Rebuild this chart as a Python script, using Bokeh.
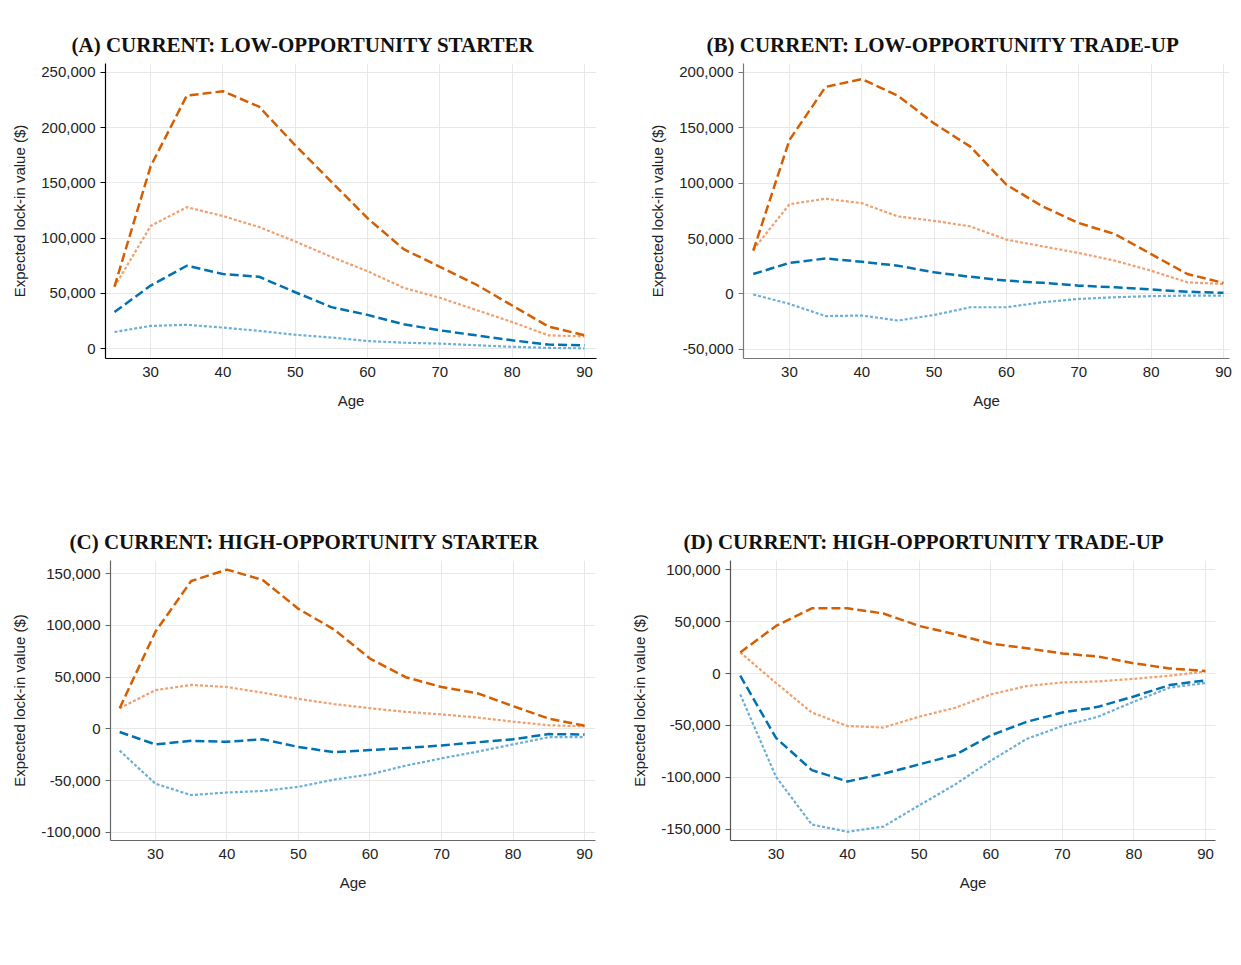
from bokeh.plotting import figure
from bokeh.models import Range1d, FixedTicker, NumeralTickFormatter, Legend, LegendItem
from bokeh.embed import file_html
from bokeh.resources import INLINE

ages = [25, 30, 35, 40, 45, 50, 55, 60, 65, 70, 75, 80, 85, 90]
series_names = ["Owner LS", "Owner LT", "Owner HS", "Owner HT"]

# Panel A: Current low-opportunity starter
a_ls = [15000, 20500, 21500, 19000, 16000, 12500, 10000, 6800, 5300, 4500, 3000, 1600, 600, 200]
a_lt = [33000, 57000, 75000, 67500, 65000, 51000, 37500, 30500, 22000, 16500, 12000, 7500, 3600, 3000]
a_hs = [56000, 111000, 128000, 120000, 110000, 97000, 83000, 70000, 55000, 46000, 35000, 24000, 12000, 11000]
a_ht = [56000, 165000, 229000, 233000, 219000, 184000, 151000, 118000, 90000, 74000, 58000, 39000, 20000, 12000]

# Panel B: Current low-opportunity trade-up
b_ls = [-500, -9000, -20000, -19500, -24000, -19000, -12000, -12000, -7500, -4500, -3000, -2000, -1500, -1500]
b_lt = [18000, 28000, 32000, 29000, 25500, 19500, 15500, 12000, 10000, 7500, 6000, 4000, 2000, 1000]
b_hs = [40000, 81000, 86000, 82000, 70000, 66000, 61000, 49000, 43000, 37000, 30000, 21000, 10500, 9000]
b_ht = [39000, 139000, 187000, 194000, 179000, 154000, 133000, 98600, 79000, 64000, 54000, 36000, 18000, 10000]

# Panel C: Current high-opportunity starter
c_ls = [-21000, -53000, -64000, -61500, -60000, -56000, -49000, -44000, -35500, -28500, -22000, -15000, -8000, -8000]
c_lt = [-3000, -15000, -11500, -12500, -10000, -17500, -22500, -20500, -18500, -16000, -13000, -10000, -5000, -5500]
c_hs = [20000, 37500, 42500, 40500, 35000, 29000, 24000, 20000, 16500, 14000, 11000, 7000, 3500, 2500]
c_ht = [20000, 94000, 143000, 154000, 144000, 116000, 96000, 68000, 50000, 40500, 34500, 22000, 10000, 3000]

# Panel D: Current high-opportunity trade-up
d_ls = [-20000, -99500, -145500, -152500, -147500, -127000, -107000, -84000, -63000, -50500, -41500, -27000, -13500, -9000]
d_lt = [-2000, -62000, -93000, -104000, -96500, -87500, -78500, -59500, -46500, -37500, -32000, -22000, -11000, -6500]
d_hs = [20500, -9000, -37500, -50500, -52000, -41500, -33000, -20000, -12000, -8500, -7500, -5000, -2000, 2000]
d_ht = [20500, 46000, 63000, 63000, 58000, 46000, 38000, 29000, 24500, 19500, 16500, 10000, 5000, 2500]

titles = [
    "(A) CURRENT: LOW-OPPORTUNITY STARTER",
    "(B) CURRENT: LOW-OPPORTUNITY TRADE-UP",
    "(C) CURRENT: HIGH-OPPORTUNITY STARTER",
    "(D) CURRENT: HIGH-OPPORTUNITY TRADE-UP",
]
y_label = "Expected lock-in value ($)"
x_label = "Age"
y_ticks = [
    [0, 50000, 100000, 150000, 200000, 250000],
    [-50000, 0, 50000, 100000, 150000, 200000],
    [-100000, -50000, 0, 50000, 100000, 150000],
    [-150000, -100000, -50000, 0, 50000, 100000],
]
x_ticks = [30, 40, 50, 60, 70, 80, 90]

COLORS = ["#6baed6", "#0072b2", "#eea06f", "#d55e00"]
DASHES = ["3 2", "9 4", "3 2", "9 4"]
WIDTHS = [2.2, 2.5, 2.2, 2.5]

FONT = "Liberation Sans"


def make_panel(title, data, yt, width, height, xr, yr, mb, axis_color, title_offset, legend_x):
    p = figure(width=width, height=height, output_backend="svg", toolbar_location=None,
               x_range=Range1d(start=xr[0], end=xr[1]), y_range=Range1d(start=yr[0], end=yr[1]),
               min_border_left=mb[0], min_border_right=mb[1],
               min_border_top=mb[2], min_border_bottom=mb[3])
    p.outline_line_color = None

    p.title.text = title
    p.title.text_font = "Liberation Serif"
    p.title.text_font_style = "bold"
    p.title.text_font_size = "21px"
    p.title.text_color = "#111111"
    p.title.align = "left"
    p.title.offset = title_offset
    p.title.vertical_align = "top"

    for ax in (p.xaxis[0], p.yaxis[0]):
        ax.axis_line_color = axis_color
        ax.axis_line_width = 1.2
        ax.major_label_text_font = FONT
        ax.major_label_text_font_size = "15px"
        ax.major_label_text_color = "#222222"
        ax.axis_label_text_font = FONT
        ax.axis_label_text_font_size = "15px"
        ax.axis_label_text_font_style = "normal"
        ax.axis_label_text_color = "#222222"
        ax.minor_tick_line_color = None
        ax.major_tick_in = 0

    p.xaxis.ticker = FixedTicker(ticks=x_ticks)
    p.xaxis.major_tick_out = 0
    p.xaxis.major_label_standoff = 8
    p.xaxis.axis_label = x_label
    p.xaxis.axis_label_standoff = 12

    p.yaxis.ticker = FixedTicker(ticks=yt)
    p.yaxis.formatter = NumeralTickFormatter(format="0,0")
    p.yaxis.major_tick_out = 5
    p.yaxis.major_tick_line_color = axis_color
    p.yaxis.major_label_standoff = 5
    p.yaxis.axis_label = y_label
    p.yaxis.axis_label_standoff = 10

    p.xgrid.ticker = FixedTicker(ticks=x_ticks)
    p.ygrid.ticker = FixedTicker(ticks=yt)
    p.xgrid.grid_line_color = "#e8e8e8"
    p.ygrid.grid_line_color = "#e8e8e8"

    renderers = []
    for vals, c, d, w in zip(data, COLORS, DASHES, WIDTHS):
        r = p.line(ages, vals, line_color=c, line_dash=d, line_width=w)
        renderers.append(r)

    # Legend drawn in the frame's coordinate space, placed below the x axis
    items = [LegendItem(label=n, renderers=[r]) for n, r in zip(series_names, renderers)]
    leg = Legend(items=items, location=(legend_x, -113), orientation="horizontal", ncols=2,
                 glyph_width=58, glyph_height=20, label_standoff=9, label_width=94,
                 label_height=20, spacing=2, padding=4, margin=0,
                 label_text_font=FONT, label_text_font_size="15px",
                 label_text_color="#222222",
                 border_line_color=None, background_fill_alpha=0)
    p.add_layout(leg)
    return p


pA = make_panel(titles[0], [a_ls, a_lt, a_hs, a_ht], y_ticks[0], 618, 468,
                (23.76, 91.66), (-9000, 258100), (96, 30, 55, 118), "#000000", -34, 89)
pB = make_panel(titles[1], [b_ls, b_lt, b_hs, b_ht], y_ticks[1], 607, 468,
                (23.65, 90.83), (-58300, 208100), (117, 4, 55, 118), "#777777", -37, 89)
pC = make_panel(titles[2], [c_ls, c_lt, c_hs, c_ht], y_ticks[2], 618, 472,
                (23.72, 91.53), (-107900, 162800), (101, 31, 76, 116), "#666666", -41, 85)
pD = make_panel(titles[3], [d_ls, d_lt, d_hs, d_ht], y_ticks[3], 607, 472,
                (23.64, 91.40), (-160900, 109100), (104, 18, 76, 116), "#555555", -47, 86)

# Each panel is its own root; a CSS grid places them 2 x 2.
html = file_html([pA, pB, pC, pD], INLINE)
grid_css = ("<style>body{display:grid;grid-template-columns:618px 607px;"
            "align-items:start;justify-items:start;margin:8px;}</style>")
html = html.replace("</head>", grid_css + "</head>", 1)
open("out.html", "w").write(html)
